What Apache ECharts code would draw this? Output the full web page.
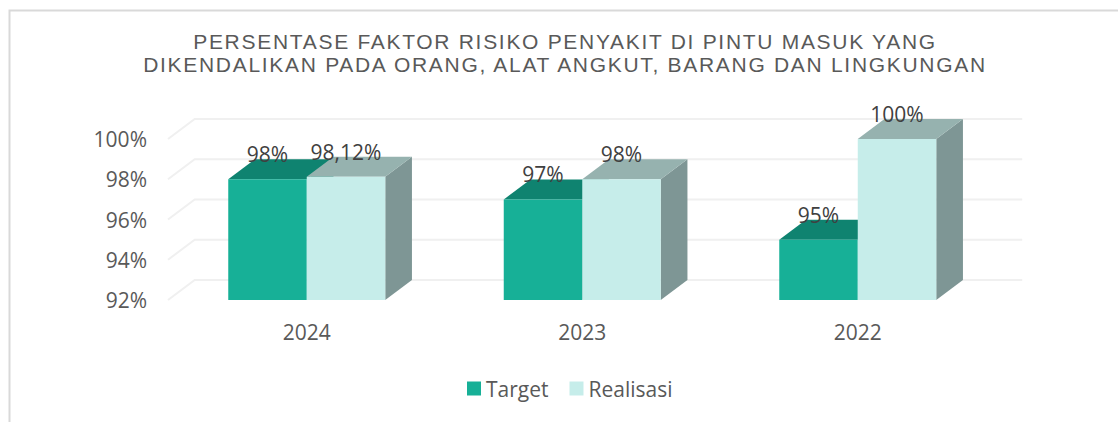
<!DOCTYPE html>
<html>
<head>
<meta charset="utf-8">
<style>
html,body{margin:0;padding:0;background:#fff}
#chart{width:1118px;height:422px}
#chart text[style*="Liberation Sans"]{letter-spacing:1.7px}
</style>
<script src="https://cdn.jsdelivr.net/npm/echarts@6/dist/echarts.min.js"></script>
</head>
<body>
<div id="chart"></div>
<script>
const categories = ['2024', '2023', '2022'];
const targetValues = [98, 97, 95];
const realisasiValues = [98.12, 98, 100];
const targetLabels = ['98%', '97%', '95%'];
const realisasiLabels = ['98,12%', '98%', '100%'];
const yTicks = [92, 94, 96, 98, 100];
const titleText = 'PERSENTASE FAKTOR RISIKO PENYAKIT DI PINTU MASUK YANG\nDIKENDALIKAN PADA ORANG, ALAT ANGKUT, BARANG DAN LINGKUNGAN';

const DX = 26.7, DY = 20, BAR_W = 78.5;
const BODY_FONT = '"Open Sans"';

function poly(points, fill) {
  return { type: 'polygon', shape: { points }, style: { fill } };
}

function barRenderer(offsetSign, labels, front, top, side) {
  return function (params, api) {
    const idx = api.value(0);
    const val = api.value(1);
    const p = api.coord([idx, val]);
    const base = api.coord([idx, 92]);
    const x0 = p[0] + (offsetSign < 0 ? -BAR_W : 0);
    const x1 = x0 + BAR_W;
    const yT = p[1], yB = base[1];
    return {
      type: 'group',
      children: [
        poly([[x1, yT], [x1 + DX, yT - DY], [x1 + DX, yB - DY], [x1, yB]], side),
        poly([[x0, yT], [x1, yT], [x1 + DX, yT - DY], [x0 + DX, yT - DY]], top),
        { type: 'rect', shape: { x: x0, y: yT, width: BAR_W, height: yB - yT }, style: { fill: front } },
        {
          type: 'text', z2: 10,
          style: {
            text: labels[params.dataIndex],
            x: (x0 + x1) / 2, y: yT - 25,
            align: 'center', verticalAlign: 'middle',
            fill: '#404040', font: '21px ' + BODY_FONT
          }
        }
      ]
    };
  };
}

const chart = echarts.init(document.getElementById('chart'), null, { renderer: 'svg' });
chart.setOption({
  animation: false,
  backgroundColor: '#ffffff',
  title: {
    text: titleText,
    left: 560, top: 25, textAlign: 'center',
    textStyle: { fontFamily: '"Liberation Sans"', fontSize: 21, fontWeight: 'normal', color: '#595959', lineHeight: 23 }
  },
  legend: {
    data: ['Target', 'Realisasi'],
    left: 462, top: 373,
    itemWidth: 14, itemHeight: 14, itemGap: 21, icon: 'rect',
    textStyle: { fontFamily: BODY_FONT, fontSize: 21, color: '#595959' }
  },
  grid: { left: 169, top: 139, width: 826.5, height: 161 },
  xAxis: {
    type: 'category', data: categories,
    axisLine: { show: false }, axisTick: { show: false },
    axisLabel: { margin: 21, fontFamily: BODY_FONT, fontSize: 21, color: '#595959' }
  },
  yAxis: {
    type: 'value', min: 92, max: 100, interval: 2,
    splitLine: { show: false }, axisLine: { show: false }, axisTick: { show: false },
    axisLabel: { margin: 22, padding: [2, 0, 0, 0], fontFamily: BODY_FONT, fontSize: 21, color: '#595959', formatter: '{value}%' }
  },
  graphic: [
    { type: 'polyline', silent: true, shape: { points: [[9.5, 422], [9.5, 10.5], [1118, 10.5]] }, style: { fill: 'none', stroke: '#d9d9d9', lineWidth: 2 } }
  ],
  series: [
    {
      type: 'custom', z: 1, silent: true,
      data: yTicks.map(v => [v]),
      encode: { y: 0 },
      renderItem: function (params, api) {
        const y = api.coord([0, api.value(0)])[1];
        const cs = params.coordSys;
        return {
          type: 'polyline',
          shape: { points: [[cs.x - 1, y], [cs.x + DX - 1, y - DY], [cs.x + cs.width + DX, y - DY]] },
          style: { fill: 'none', stroke: '#f0f0f0', lineWidth: 2 }
        };
      }
    },
    {
      name: 'Target', type: 'custom', z: 2,
      itemStyle: { color: '#17b097' },
      data: targetValues.map((v, i) => [i, v]),
      encode: { x: 0, y: 1 },
      renderItem: barRenderer(-1, targetLabels, '#17b097', '#0f8370', '#0f8370')
    },
    {
      name: 'Realisasi', type: 'custom', z: 3,
      itemStyle: { color: '#c6edea' },
      data: realisasiValues.map((v, i) => [i, v]),
      encode: { x: 0, y: 1 },
      renderItem: barRenderer(1, realisasiLabels, '#c6edea', '#96b2af', '#7e9695')
    }
  ]
});
</script>
</body>
</html>
